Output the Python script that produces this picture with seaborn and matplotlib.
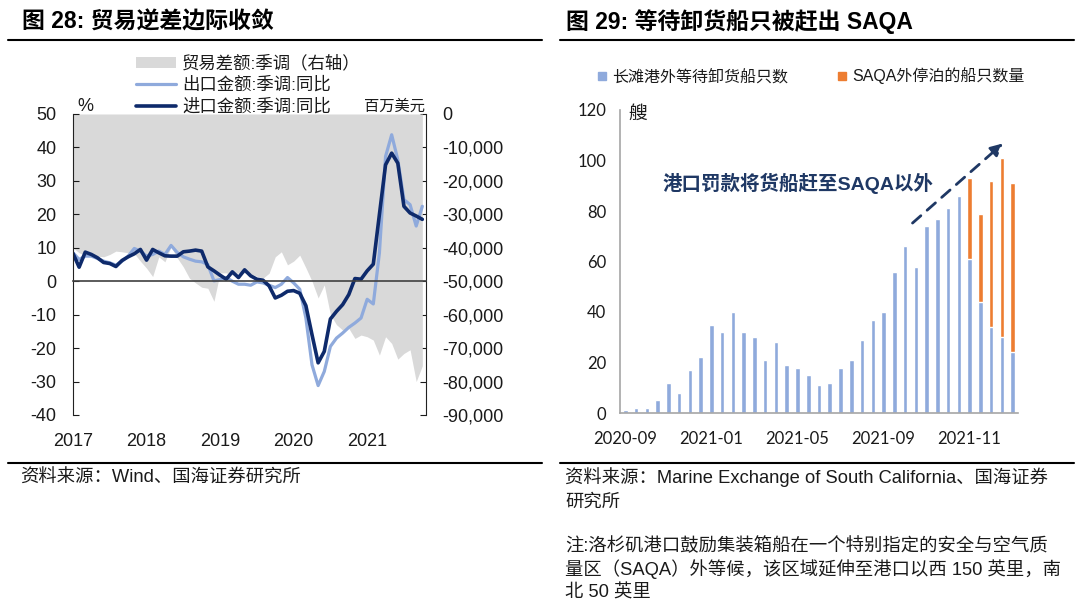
import numpy as np
import pandas as pd
import matplotlib
matplotlib.use('Agg')
import matplotlib.pyplot as plt
from matplotlib.lines import Line2D
from matplotlib.patches import Patch
from matplotlib.ticker import FuncFormatter
import seaborn as sns

# 图28：美国贸易（月度，2017-01 ~ 2021-10）
export_yoy = [8.5, 6.5, 7.5, 7.5, 6.8, 6.0, 5.5, 4.8, 6.0, 7.5,
              9.8, 9.0, 7.5, 8.0, 9.0, 8.0, 10.7, 8.6, 7.3, 6.6,
              6.0, 5.8, 5.0, 0.1, 0.5, 1.1, 0.0, -0.9, -0.9, -1.2,
              -0.2, -0.5, -1.2, -1.9, -0.9, 1.1, -0.5, -2.4, -11.0, -25.0,
              -31.2, -27.0, -19.5, -17.0, -15.5, -13.8, -12.5, -11.0, -5.4, -6.8,
              8.5, 37.3, 43.8, 36.3, 24.4, 22.9, 16.5, 22.4]
import_yoy = [8.3, 4.2, 8.7, 8.0, 7.0, 5.6, 5.3, 4.4, 6.2, 7.3,
              8.2, 9.5, 6.3, 9.5, 8.5, 7.6, 7.5, 7.5, 8.8, 9.0,
              9.3, 9.0, 4.3, 3.1, 1.8, 0.6, 2.8, 1.1, 3.4, 1.6,
              0.6, 0.3, -1.4, -5.0, -4.2, -3.0, -2.8, -3.6, -7.3, -16.0,
              -24.4, -21.0, -11.3, -9.0, -7.0, -4.0, 0.8, 0.6, 3.1, 5.1,
              20.0, 34.8, 38.3, 35.3, 22.4, 20.4, 19.5, 18.5]
trade_balance = [-40000, -41500, -42200, -42500, -42500, -42700, -42000, -41000, -41200, -41500,
                 -41700, -44000, -46100, -48600, -42700, -44200, -39700, -43000, -45700, -49100,
                 -50500, -51800, -52100, -56000, -47500, -47500, -48100, -47500, -47500, -47800,
                 -48500, -49100, -47600, -42700, -41200, -45100, -44000, -42200, -46000, -50000,
                 -55000, -51100, -60000, -63000, -64600, -64100, -67100, -66100, -66600, -67600,
                 -72100, -66600, -68600, -73300, -71600, -70500, -80000, -75300]
year_labels = ['2017', '2018', '2019', '2020', '2021']

# 图29：长滩港外等待卸货船只
ship_labels = ['2020-09', '2021-01', '2021-05', '2021-09', '2021-11']
longbeach_ships = [1, 2, 2, 5, 12, 8, 17, 22, 35, 32,
                   40, 32, 30, 21, 28, 19, 18, 15, 11, 12,
                   18, 21, 29, 37, 40, 56, 66, 58, 74, 77,
                   81, 86, 61, 44, 34, 30, 24]
saqa_ships = [0, 0, 0, 0, 0, 0, 0, 0, 0, 0,
              0, 0, 0, 0, 0, 0, 0, 0, 0, 0,
              0, 0, 0, 0, 0, 0, 0, 0, 0, 0,
              0, 0, 32, 35, 58, 71, 67]

light_blue = '#8FAADC'
navy = '#0E2A6B'
gray = '#D9D9D9'
orange = '#ED7D31'
text_c = '#1A1A1A'

sns.set_style('white')
plt.rcParams['font.family'] = ['Liberation Sans', 'Noto Sans CJK SC']
plt.rcParams['axes.unicode_minus'] = False

W, H = 1080, 607
fig = plt.figure(figsize=(10.8, 6.07), dpi=100)


def frect(x0, y0, x1, y1):
    # 像素坐标 -> figure 坐标
    return [x0 / W, 1 - y1 / H, (x1 - x0) / W, (y1 - y0) / H]


# ---------------- 图28 ----------------
df28 = pd.DataFrame({'month': np.arange(len(export_yoy)),
                     'export': export_yoy,
                     'import': import_yoy,
                     'balance': trade_balance})

ax1 = fig.add_axes(frect(73, 114, 426, 415))
ax1r = ax1.twinx()
ax1r.fill_between(df28['month'], df28['balance'], 0, color=gray, lw=0)
ax1r.set_ylim(-90000, 0)
ax1.set_zorder(ax1r.get_zorder() + 1)
ax1.patch.set_visible(False)

sns.lineplot(data=df28, x='month', y='export', ax=ax1, color=light_blue, lw=2.3, legend=False)
sns.lineplot(data=df28, x='month', y='import', ax=ax1, color=navy, lw=2.6, legend=False)
ax1.set_ylim(-40, 50)
ax1.set_xlim(0, 57.6)
ax1.set_yticks(range(-40, 51, 10))
ax1.set_xlabel('')
ax1.set_ylabel('')

year_pos = [12 * i for i in range(len(year_labels))]
ax1.spines['bottom'].set_position(('data', 0))
ax1.spines['bottom'].set_color('#404040')
ax1.spines['bottom'].set_linewidth(1.2)
ax1.set_xticks(year_pos)
ax1.tick_params(axis='x', direction='in', length=4, color='#404040', labelbottom=False)
ax1.tick_params(axis='y', direction='in', length=4, pad=12, labelsize=13, colors=text_c)
for s in ['top', 'right']:
    ax1.spines[s].set_visible(False)
ax1.spines['left'].set_color('#222222')

sec = ax1.secondary_xaxis('bottom')
sec.set_xticks(year_pos, year_labels)
sec.spines['bottom'].set_visible(False)
sec.tick_params(length=0, pad=13, labelsize=13, colors=text_c)

ax1r.set_yticks(range(-90000, 1, 10000))
ax1r.yaxis.set_major_formatter(FuncFormatter(lambda v, p: f'{v:,.0f}'))
ax1r.tick_params(axis='y', direction='in', length=4, pad=12, labelsize=13, colors=text_c)
for s in ['top', 'left', 'bottom']:
    ax1r.spines[s].set_visible(False)
ax1r.spines['right'].set_color('#222222')
ax1r.set_ylabel('')

ax1.text(0.034, 1.025, '%', transform=ax1.transAxes, fontsize=13, ha='center', va='center', color=text_c)
ax1.text(0.998, 1.025, '百万美元', transform=ax1.transAxes, fontsize=11, ha='right', va='center', color=text_c)

leg1_handles = [Patch(facecolor=gray, edgecolor='none'),
                Line2D([], [], color=light_blue, lw=2.3),
                Line2D([], [], color=navy, lw=2.6)]
leg1_labels = ['贸易差额:季调（右轴）', '出口金额:季调:同比', '进口金额:季调:同比']
fig.legend(leg1_handles, leg1_labels, loc='upper left', bbox_to_anchor=(136 / W, 1 - 55 / H),
           frameon=False, fontsize=12.5, handlelength=2.3, handleheight=0.55, handletextpad=0.35,
           labelspacing=0.28, borderpad=0, borderaxespad=0, labelcolor=text_c)

# ---------------- 图29 ----------------
df29 = pd.DataFrame({'week': np.arange(len(longbeach_ships)),
                     'longbeach': longbeach_ships,
                     'total': np.array(longbeach_ships) + np.array(saqa_ships)})

ax2 = fig.add_axes(frect(620, 110, 1018, 413))
sns.barplot(data=df29, x='week', y='total', color=orange, saturation=1, width=0.42,
            errorbar=None, ax=ax2)
sns.barplot(data=df29, x='week', y='longbeach', color=light_blue, saturation=1, width=0.42,
            errorbar=None, ax=ax2)
ax2.set_ylim(0, 120)
ax2.set_xlim(-0.5, len(longbeach_ships) - 0.5)
ax2.set_yticks(range(0, 121, 20))
ax2.set_xticks(range(0, 8 * len(ship_labels), 8))
ax2.set_xticklabels(ship_labels)
ax2.set_xticks(np.arange(2.5, len(longbeach_ships), 3), minor=True)
ax2.set_xlabel('')
ax2.set_ylabel('')
for s in ['top', 'right']:
    ax2.spines[s].set_visible(False)
for s in ['left', 'bottom']:
    ax2.spines[s].set_color('#A6A6A6')
    ax2.spines[s].set_linewidth(1.2)
ax2.tick_params(axis='x', which='major', length=0, pad=13, labelsize=12, colors=text_c)
ax2.tick_params(axis='x', which='minor', direction='in', length=4, color='#808080')
ax2.tick_params(axis='y', direction='in', length=4, pad=10, labelsize=12, colors=text_c, color='#A6A6A6')
for lab in ax2.get_xticklabels() + ax2.get_yticklabels():
    lab.set_family(['Lato', 'Noto Sans CJK SC'])

ax2.text(0.02, 0.985, '艘', transform=ax2.transAxes, fontsize=13.5, ha='left', va='center', color=text_c)
ax2.text(16, 91, '港口罚款将货船赶至SAQA以外', color='#1F3864', fontsize=14,
         fontweight='bold', ha='center', va='center')
ax2.annotate('', xy=(35.3, 107.5), xytext=(26.5, 74.5),
             arrowprops=dict(arrowstyle='-|>', linestyle=(0, (4, 3)), color='#1F3864',
                             lw=2, mutation_scale=18))

leg2_handles = [Line2D([], [], marker='s', ls='none', color=light_blue, markersize=6),
                Line2D([], [], marker='s', ls='none', color=orange, markersize=6)]
fig.legend(leg2_handles, ['长滩港外等待卸货船只数', 'SAQA外停泊的船只数量'], loc='center left',
           bbox_to_anchor=(596 / W, 1 - 76 / H), ncol=2, frameon=False, fontsize=11.5,
           handlelength=0.8, handletextpad=0.2, columnspacing=3.0, borderpad=0,
           borderaxespad=0, labelcolor=text_c)

# ---------------- 标题、来源 ----------------
fig.text(22 / W, 1 - 22 / H, '图 28: 贸易逆差边际收敛', fontsize=16.5, fontweight='bold',
         ha='left', va='center', color='black')
fig.text(566 / W, 1 - 22 / H, '图 29: 等待卸货船只被赶出 SAQA', fontsize=16.5, fontweight='bold',
         ha='left', va='center', color='black')
for x0, x1 in [(8, 542), (560, 1074)]:
    fig.add_artist(Line2D([x0 / W, x1 / W], [1 - 40 / H] * 2, color='black', lw=1.5))
    fig.add_artist(Line2D([x0 / W, x1 / W], [1 - 463 / H] * 2, color='black', lw=1.5))

fs_note = 13.2
fig.text(20 / W, 1 - 478 / H, '资料来源：Wind、国海证券研究所', fontsize=fs_note, va='center', color=text_c)
fig.text(565 / W, 1 - 477 / H, '资料来源：Marine Exchange of South California、国海证券',
         fontsize=fs_note, va='center', color=text_c)
fig.text(565 / W, 1 - 502 / H, '研究所', fontsize=fs_note, va='center', color=text_c)
notes = ['注:洛杉矶港口鼓励集装箱船在一个特别指定的安全与空气质',
         '量区（SAQA）外等候，该区域延伸至港口以西 150 英里，南',
         '北 50 英里']
for i, line in enumerate(notes):
    fig.text(565 / W, 1 - (546 + 23.5 * i) / H, line, fontsize=fs_note, va='center', color=text_c)

fig.savefig('out.png', dpi=100, facecolor='white')
